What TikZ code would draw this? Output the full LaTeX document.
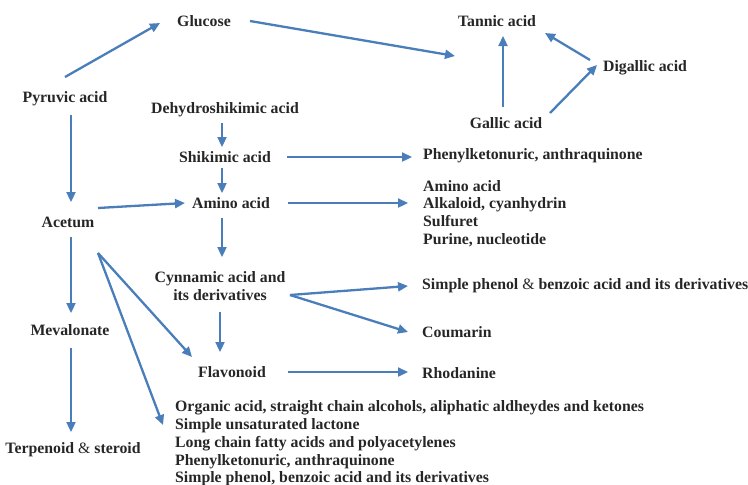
\documentclass[tikz,border=0pt]{standalone}
\usepackage{fontspec}
\setmainfont{Liberation Serif}[BoldFont={Liberation Serif Bold}]
\usetikzlibrary{arrows.meta}
\definecolor{pathblue}{HTML}{4A7EBB}
\definecolor{labelgray}{HTML}{262626}

\begin{document}
\begin{tikzpicture}[x=1pt, y=-1pt,
    lbl/.style={font=\bfseries\fontsize{15.8}{17.8}\selectfont, text=labelgray, inner sep=0pt},
    lst/.style={lbl, anchor=west, align=left},
    arr/.style={-{Triangle[length=10pt,width=9pt]}, pathblue, line width=2.3pt}]
    \useasboundingbox (0,0) rectangle (748,485);

    % Left column
    \node[lbl] (pyruvic) at (65, 99) {Pyruvic acid};
    \node[lbl] (acetum) at (68, 222) {Acetum};
    \node[lbl] (mevalonate) at (70, 330) {Mevalonate};
    \node[lbl] (terpenoid) at (73, 450) {Terpenoid \textmd{\&} steroid};

    % Middle column
    \node[lbl] (glucose) at (204, 21) {Glucose};
    \node[lbl] (dehydro) at (225, 110) {Dehydroshikimic acid};
    \node[lbl] (shikimic) at (225, 157) {Shikimic acid};
    \node[lbl] (amino) at (231, 203) {Amino acid};
    \node[lbl, align=center] (cinnamic) at (220, 286) {Cynnamic acid and\\its derivatives};
    \node[lbl] (flavonoid) at (232, 372) {Flavonoid};
    \node[lst] (bottomlist) at (175, 443.5) {Organic acid, straight chain alcohols, aliphatic aldheydes and ketones\\
        Simple unsaturated lactone\\Long chain fatty acids and polyacetylenes\\
        Phenylketonuric, anthraquinone\\Simple phenol, benzoic acid and its derivatives};

    % Tannin corner
    \node[lbl] (tannic) at (497, 21) {Tannic acid};
    \node[lbl] (digallic) at (645, 68) {Digallic acid};
    \node[lbl] (gallic) at (506, 123) {Gallic acid};

    % Right column
    \node[lst] (phenyl) at (423, 156) {Phenylketonuric, anthraquinone};
    \node[lst] (aminolist) at (423, 213.5) {Amino acid\\Alkaloid, cyanhydrin\\Sulfuret\\Purine, nucleotide};
    \node[lst] (simplephenol) at (422, 286) {Simple phenol \textmd{\&} benzoic acid and its derivatives};
    \node[lst] (coumarin) at (422, 332) {Coumarin};
    \node[lst] (rhodanine) at (422, 373) {Rhodanine};

    % Arrows
    \draw[arr] ([shift={(0,-22)}]pyruvic.center) -- ([shift={(-44,2)}]glucose.center);
    \draw[arr] ([shift={(46,0)}]glucose.center) -- ([shift={(-42,35)}]tannic.center);
    \draw[arr] ([shift={(-3,-16)}]gallic.center) -- ([shift={(6,15)}]tannic.center);
    \draw[arr] ([shift={(-55,-8)}]digallic.center) -- ([shift={(48,12)}]tannic.center);
    \draw[arr] ([shift={(44,-10)}]gallic.center) -- ([shift={(-48,-3)}]digallic.center);
    \draw[arr] ([shift={(-3,13)}]dehydro.center) -- ([shift={(-3,-10)}]shikimic.center);
    \draw[arr] ([shift={(62,0)}]shikimic.center) -- ([shift={(-11,1)}]phenyl.west);
    \draw[arr] ([shift={(6,16)}]pyruvic.center) -- ([shift={(3,-20)}]acetum.center);
    \draw[arr] ([shift={(30,-14)}]acetum.center) -- ([shift={(-46,0)}]amino.center);
    \draw[arr] ([shift={(-3,11)}]shikimic.center) -- ([shift={(-9,-10)}]amino.center);
    \draw[arr] ([shift={(57,0)}]amino.center) -- ([shift={(-15,-10.5)}]aminolist.west);
    \draw[arr] ([shift={(-9,15)}]amino.center) -- ([shift={(2,-29)}]cinnamic.center);
    \draw[arr] ([shift={(70,9)}]cinnamic.center) -- ([shift={(-14,0)}]simplephenol.west);
    \draw[arr] ([shift={(70,9)}]cinnamic.center) -- ([shift={(-14,0)}]coumarin.west);
    \draw[arr] ([shift={(0,26)}]cinnamic.center) -- ([shift={(-12,-20)}]flavonoid.center);
    \draw[arr] ([shift={(56,0)}]flavonoid.center) -- ([shift={(-14,-1)}]rhodanine.west);
    \draw[arr] ([shift={(30,31)}]acetum.center) -- ([shift={(-40,-15)}]flavonoid.center);
    \draw[arr] ([shift={(30,31)}]acetum.center) -- ([shift={(-12,-18.5)}]bottomlist.west);
    \draw[arr] ([shift={(3,15)}]acetum.center) -- ([shift={(1,-17)}]mevalonate.center);
    \draw[arr] ([shift={(1,18)}]mevalonate.center) -- ([shift={(-2,-18)}]terpenoid.center);
\end{tikzpicture}
\end{document}
